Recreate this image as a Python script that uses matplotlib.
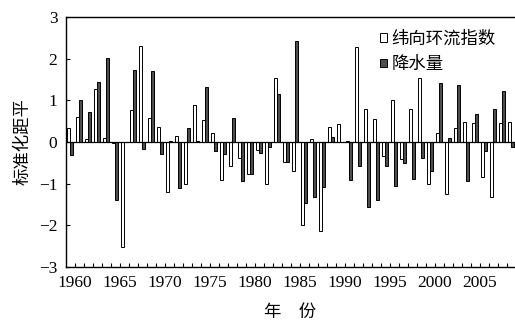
import numpy as np
import matplotlib
matplotlib.use("Agg")
import matplotlib.pyplot as plt
from matplotlib.patches import Patch

# 数据
years = np.arange(1960, 2010)
zonal_index = [0.33, 0.59, 0.07, 1.28, 0.10, -0.02, -2.52, 0.76, 2.31, 0.57,
               0.35, -1.20, 0.15, -1.00, 0.88, 0.53, 0.22, -0.92, -0.58, -0.38,
               -0.78, -0.19, -1.00, 1.53, -0.49, -0.69, -2.00, 0.07, -2.14, 0.37,
               0.43, 0.02, 2.28, 0.80, 0.55, -0.33, 1.01, -0.42, 0.79, 1.53,
               -1.01, 0.22, -1.24, 0.33, 0.47, 0.45, -0.84, -1.32, 0.45, 0.47]
precip = [-0.31, 1.01, 0.71, 1.44, 2.01, -1.40, 0.0, 1.73, -0.16, 1.71,
          -0.29, 0.02, -1.10, 0.33, 0.02, 1.31, -0.21, -0.29, 0.57, -0.94,
          -0.78, -0.27, -0.11, 1.15, -0.49, 2.43, -1.46, -1.32, -1.08, 0.12,
          0.0, -0.92, -0.57, -1.57, -1.40, -0.57, -1.06, -0.51, -0.89, -0.38,
          -0.69, 1.41, 0.10, 1.37, -0.94, 0.67, -0.21, 0.80, 1.23, -0.11]
legend_labels = ["纬向环流指数", "降水量"]

cjk = ["Noto Sans CJK SC", "DejaVu Sans"]
num_font = "Liberation Serif"
dark = "#4d4d4d"

fig = plt.figure(figsize=(5.15, 3.23), dpi=100)
ax = fig.add_axes([0.1276, 0.1734, 0.8724, 0.774])

ax.bar(years - 0.85, zonal_index, width=0.34, align="edge",
       color="white", edgecolor="black", linewidth=0.7)
ax.bar(years - 0.51, precip, width=0.34, align="edge",
       color=dark, edgecolor="black", linewidth=0.7)
ax.axhline(0, color="black", linewidth=0.9)

ax.set_xlim(1958.97, 2008.9)
ax.set_ylim(-3, 3)
ax.set_xticks(np.arange(1960, 2006, 5))
ax.set_xticks(np.arange(1960, 2009, 1), minor=True)
ax.set_yticks(np.arange(-3, 4, 1))
ax.set_yticklabels(["\u22123", "\u22122", "\u22121", "0", "1", "2", "3"])
ax.tick_params(axis="x", which="both", direction="in", length=3, width=0.8,
               top=False, pad=6)
ax.tick_params(axis="y", direction="in", length=3, width=0.8, right=False, pad=6)
for lab in ax.get_xticklabels() + ax.get_yticklabels():
    lab.set_fontfamily(num_font)
    lab.set_fontsize(12.5)

ax.spines["right"].set_visible(False)
for s in ["left", "bottom", "top"]:
    ax.spines[s].set_linewidth(1.0)

ax.set_ylabel("标准化距平", family=cjk, fontsize=12.5, labelpad=5)
fig.text(0.563, 0.035, "年　份", family=cjk, fontsize=12.5, ha="center", va="center")

handles = [Patch(facecolor="white", edgecolor="black", linewidth=0.7),
           Patch(facecolor=dark, edgecolor="black", linewidth=0.7)]
ax.legend(handles, legend_labels, loc="upper left", bbox_to_anchor=(0.70, 0.95),
          frameon=False, prop={"family": cjk, "size": 12.5}, handlelength=0.4,
          handleheight=0.4, handletextpad=0.25, labelspacing=0.45, borderpad=0,
          borderaxespad=0)

fig.savefig("out.png", dpi=100)
